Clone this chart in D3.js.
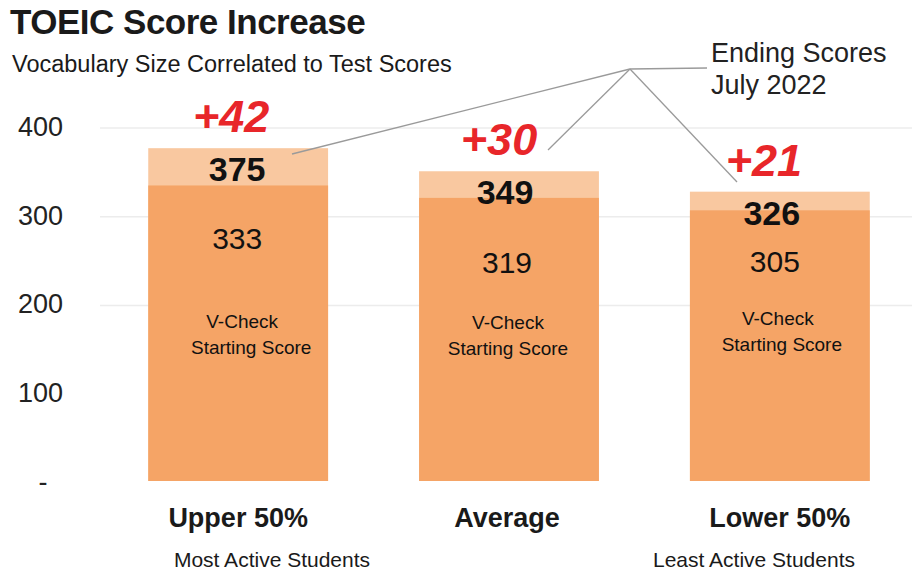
<!DOCTYPE html>
<html><head><meta charset="utf-8">
<script src="https://cdn.jsdelivr.net/npm/d3@7"></script>
<style>body{margin:0;background:#fff}svg{display:block;font-family:"Liberation Sans",Arial,sans-serif}</style>
</head><body><svg id="c" width="912" height="575"></svg>
<script>
const categories = ["Upper 50%", "Average", "Lower 50%"];
const subLabels = ["Most Active Students", "", "Least Active Students"];
const startScores = [333, 319, 305];
const endScores = [375, 349, 326];
const increases = ["+42", "+30", "+21"];
const yTicks = [0, 100, 200, 300, 400];
const yTickLabels = ["-", "100", "200", "300", "400"];

const svg = d3.select("#c");
const y = d3.scaleLinear().domain([0, 400]).range([481, 126]);
const x = d3.scaleBand().domain(categories).range([67, 951]).paddingInner(0.336).paddingOuter(0.3);

// gridlines
svg.append("g").selectAll("line").data([200, 300, 400]).join("line")
  .attr("x1", 100).attr("x2", 912)
  .attr("y1", d => y(d) + 2).attr("y2", d => y(d) + 2)
  .attr("stroke", "#ececec").attr("stroke-width", 1.5);

// y tick labels
const yAxis = d3.axisLeft(y).tickValues(yTicks).tickFormat((d, i) => yTickLabels[i]).tickSize(0);
const ga = svg.append("g").attr("transform", "translate(63,0)").call(yAxis);
ga.select(".domain").remove();
ga.selectAll("text").attr("font-size", 27).attr("fill", "#222")
  .attr("font-family", "Liberation Sans, Arial, sans-serif")
  .attr("x", 0).attr("dy", "0.35em")
  .attr("text-anchor", (d) => d === 0 ? "middle" : "end")
  .attr("transform", d => d === 0 ? "translate(-20,0)" : null);

// bars
const idx = d3.range(categories.length);
svg.append("g").selectAll("rect.end").data(idx).join("rect")
  .attr("x", i => x(categories[i])).attr("width", x.bandwidth())
  .attr("y", i => y(endScores[i])).attr("height", i => y(0) - y(endScores[i]))
  .attr("fill", "#f9c8a0");
svg.append("g").selectAll("rect.start").data(idx).join("rect")
  .attr("x", i => x(categories[i])).attr("width", x.bandwidth())
  .attr("y", i => y(startScores[i])).attr("height", i => y(0) - y(startScores[i]))
  .attr("fill", "#f5a466");

// callout lines
const hub = [630, 69];
const targets = [[292, 154], [548, 150], [737, 182]];
svg.append("g").selectAll("line").data(targets).join("line")
  .attr("x1", hub[0]).attr("y1", hub[1]).attr("x2", d => d[0]).attr("y2", d => d[1])
  .attr("stroke", "#9a9a9a").attr("stroke-width", 1.3);
svg.append("line").attr("x1", hub[0]).attr("y1", hub[1]).attr("x2", 707).attr("y2", 68)
  .attr("stroke", "#9a9a9a").attr("stroke-width", 1.3);
svg.append("text").attr("x", 711).attr("y", 62).attr("font-size", 27).attr("fill", "#222").text("Ending Scores");
svg.append("text").attr("x", 711).attr("y", 94).attr("font-size", 27).attr("fill", "#222").text("July 2022");

const cx = i => x(categories[i]) + x.bandwidth() / 2;
const g = svg.append("g");
// end scores
const endOff = [-1, -4, -8];
g.selectAll("text.end").data(idx).join("text")
  .attr("x", i => cx(i) + endOff[i]).attr("y", i => y(endScores[i]) + 33)
  .attr("text-anchor", "middle").attr("font-size", 34).attr("font-weight", "bold").attr("fill", "#111")
  .text(i => endScores[i]);
// increases
const incOff = [-7, -10, -16];
g.selectAll("text.inc").data(idx).join("text")
  .attr("x", i => cx(i) + incOff[i]).attr("y", i => y(endScores[i]) - 16)
  .attr("text-anchor", "middle").attr("font-size", 45).attr("font-weight", "bold").attr("font-style", "italic")
  .attr("fill", "#e8262a").text(i => increases[i]);
// start scores
const startDy = [64, 75, 62];
g.selectAll("text.start").data(idx).join("text")
  .attr("x", i => cx(i) + [-1, -2, -5][i]).attr("y", i => y(startScores[i]) + startDy[i])
  .attr("text-anchor", "middle").attr("font-size", 30).attr("fill", "#111")
  .text(i => startScores[i]);
// V-Check labels
const vcY = [328, 329, 325];
const vcOff = [[4, 13], [-1, -1], [-2, 2]];
idx.forEach(i => {
  const t = g.append("text").attr("text-anchor", "middle").attr("font-size", 19).attr("fill", "#111");
  t.append("tspan").attr("x", cx(i) + vcOff[i][0]).attr("y", vcY[i]).text("V-Check");
  t.append("tspan").attr("x", cx(i) + vcOff[i][1]).attr("y", vcY[i] + 26).text("Starting Score");
});

// category labels
const catOff = [0, -2, 0];
g.selectAll("text.cat").data(idx).join("text")
  .attr("x", i => cx(i) + catOff[i]).attr("y", 527)
  .attr("text-anchor", "middle").attr("font-size", 27).attr("font-weight", "bold").attr("fill", "#1a1a1a")
  .text(i => categories[i]);
const subX = [272, 0, 754];
g.selectAll("text.sub").data(idx.filter(i => subLabels[i])).join("text")
  .attr("x", i => subX[i]).attr("y", 567)
  .attr("text-anchor", "middle").attr("font-size", 21).attr("fill", "#1a1a1a")
  .text(i => subLabels[i]);

// titles
svg.append("text").attr("x", 10).attr("y", 34).attr("font-size", 35).attr("font-weight", "bold").attr("fill", "#1a1a1a")
  .attr("letter-spacing", -0.5).text("TOEIC Score Increase");
svg.append("text").attr("x", 12).attr("y", 72).attr("font-size", 23.5).attr("fill", "#1a1a1a")
  .text("Vocabulary Size Correlated to Test Scores");
</script></body></html>
